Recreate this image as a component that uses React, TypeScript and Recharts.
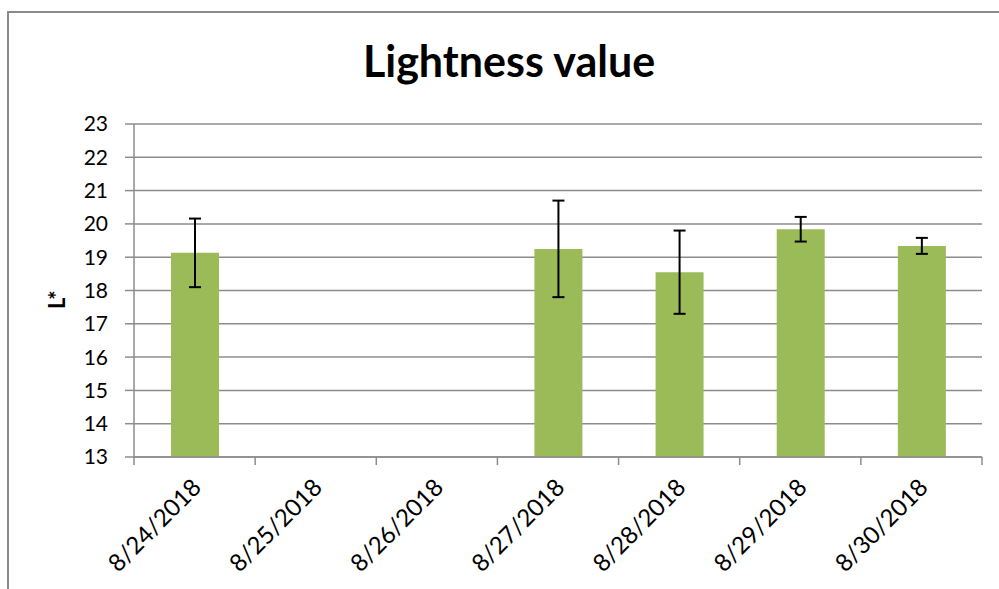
import React from "react";
import {
  BarChart,
  Bar,
  XAxis,
  YAxis,
  CartesianGrid,
  ErrorBar,
} from "recharts";

const dates = [
  "8/24/2018",
  "8/25/2018",
  "8/26/2018",
  "8/27/2018",
  "8/28/2018",
  "8/29/2018",
  "8/30/2018",
];
const lightness = [19.13, null, null, 19.25, 18.55, 19.84, 19.34];
const errors = [1.03, null, null, 1.45, 1.25, 0.37, 0.24];
const yTicks = [13, 14, 15, 16, 17, 18, 19, 20, 21, 22, 23];
// tick marks sit between the categories, like Excel
const boundaryTicks = [0, 1, 2, 3, 4, 5, 6, 7];

const data = dates.map((date, i) => ({
  date,
  slot: i + 0.5,
  value: lightness[i],
  err: errors[i],
}));

const FONT = "Lato, 'Open Sans', sans-serif";
const GRID = "#8c8c8c";

const DateTick = ({ x, y, payload }: any) => (
  <text
    x={0}
    y={0}
    transform={`translate(${x + 8}, ${y + 23}) rotate(-45)`}
    textAnchor="end"
    fontSize={24}
    fontFamily={FONT}
    fill="#000"
  >
    {payload.value}
  </text>
);

const App = () => {
  return (
    <div
      style={{
        position: "relative",
        width: 999,
        height: 589,
        overflow: "hidden",
        background: "#fff",
      }}
    >
      <style>{"body{margin:0}"}</style>
      {/* outer frame */}
      <div
        style={{
          position: "absolute",
          left: 7,
          top: 11,
          width: 1020,
          height: 620,
          border: "2px solid #8a8a8a",
        }}
      />
      {/* title */}
      <div
        style={{
          position: "absolute",
          left: 0,
          width: 1018,
          top: 35,
          textAlign: "center",
          fontFamily: FONT,
          fontWeight: 700,
          fontSize: 43,
          color: "#000",
        }}
      >
        Lightness value
      </div>
      <div style={{ position: "absolute", left: 0, top: 0 }}>
        <BarChart
          width={999}
          height={589}
          data={data}
          margin={{ top: 124, right: 17, bottom: 0, left: 74 }}
        >
          <CartesianGrid
            vertical={false}
            stroke={GRID}
            strokeWidth={1.5}
            xAxisId="b"
          />
          <XAxis
            xAxisId="b"
            dataKey="date"
            axisLine={false}
            tickLine={false}
            tick={<DateTick />}
            interval={0}
            height={131}
          />
          <XAxis
            xAxisId="a"
            dataKey="slot"
            type="number"
            scale="linear"
            domain={[0, 7]}
            ticks={boundaryTicks}
            interval={0}
            allowDataOverflow
            stroke={GRID}
            strokeWidth={1.5}
            tickSize={8}
            tick={() => <g />}
            height={1}
          />
          <YAxis
            domain={[13, 23]}
            ticks={yTicks}
            interval={0}
            allowDataOverflow
            width={60}
            stroke={GRID}
            strokeWidth={1.5}
            tickSize={9}
            tickMargin={17}
            tick={{ fill: "#000", fontSize: 21, fontFamily: FONT }}
            label={{
              value: "L*",
              angle: -90,
              position: "left",
              offset: 17,
              fill: "#000",
              fontSize: 22,
              fontWeight: 700,
              fontFamily: FONT,
            }}
          />
          <Bar
            xAxisId="b"
            dataKey="value"
            fill="#9bbb59"
            barSize={48}
            isAnimationActive={false}
          >
            <ErrorBar
              dataKey="err"
              width={6}
              stroke="#000"
              strokeWidth={2}
              direction="y"
            />
          </Bar>
        </BarChart>
      </div>
    </div>
  );
};

export default App;
